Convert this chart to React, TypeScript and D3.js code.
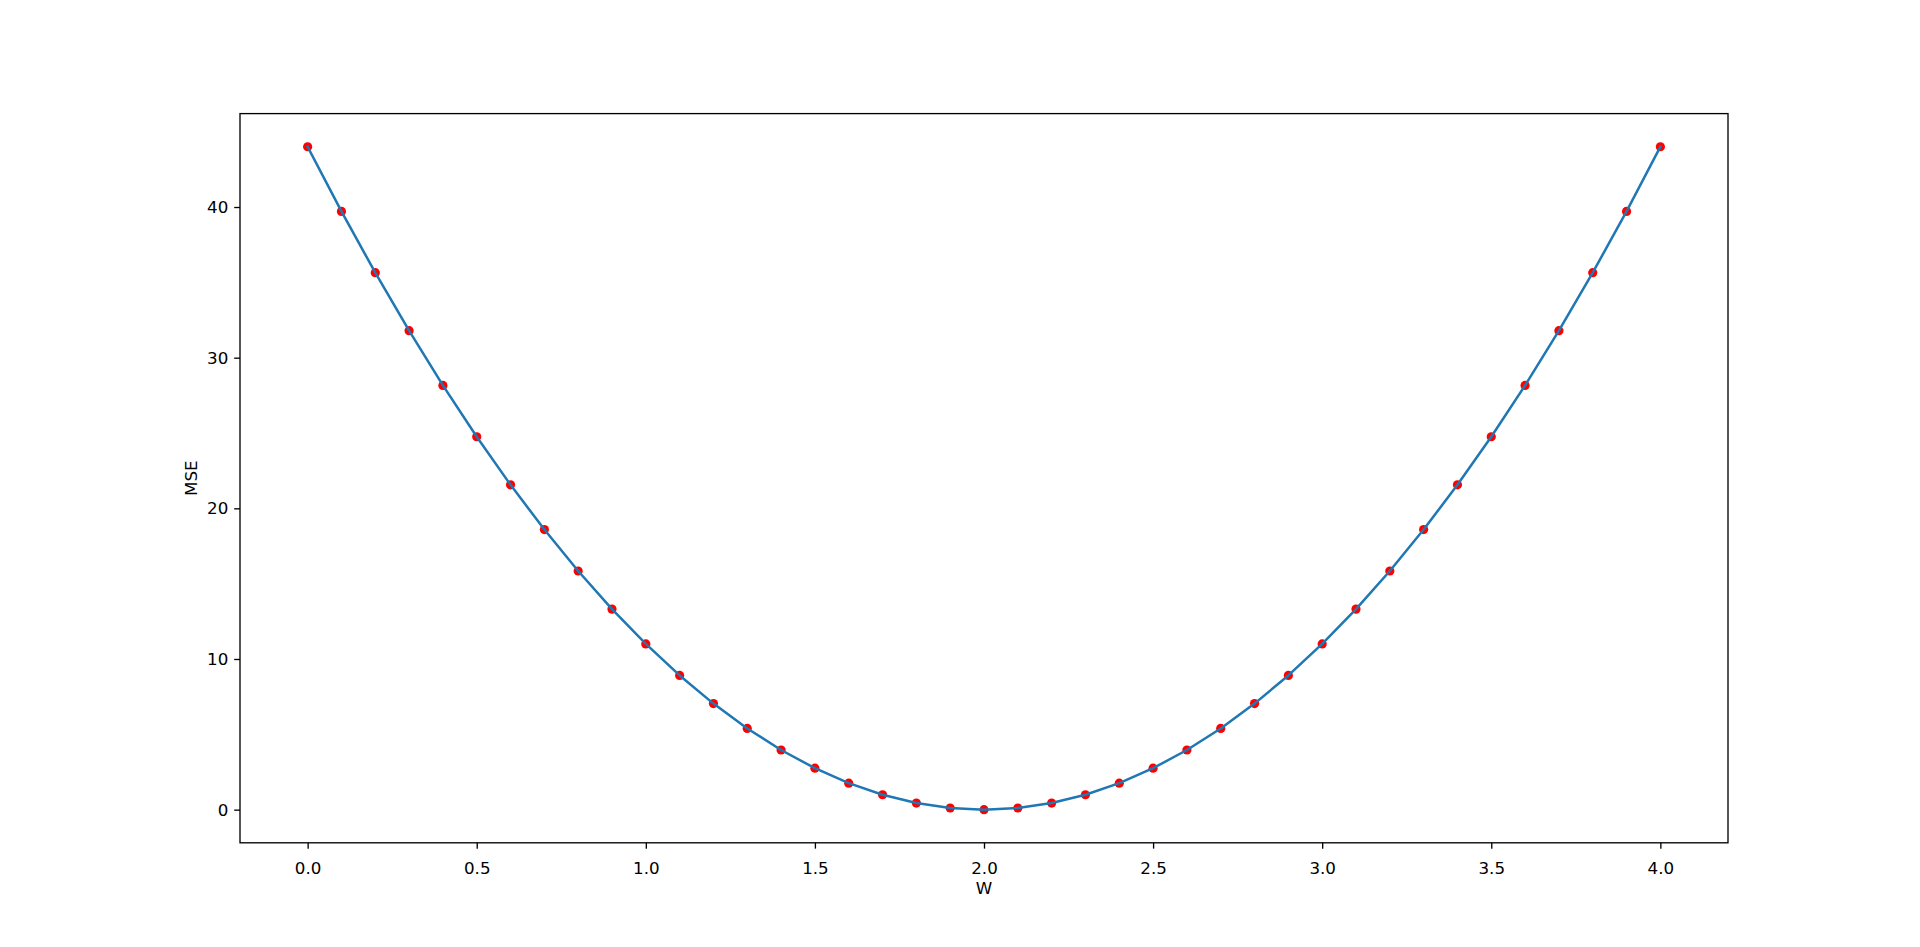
import React, { useEffect, useRef } from 'react';
import * as d3 from 'd3';

// W values sampled from 0 to 4
const wValues = [
  0.0, 0.1, 0.2, 0.3, 0.4, 0.5, 0.6, 0.7, 0.8, 0.9,
  1.0, 1.1, 1.2, 1.3, 1.4, 1.5, 1.6, 1.7, 1.8, 1.9,
  2.0, 2.1, 2.2, 2.3, 2.4, 2.5, 2.6, 2.7, 2.8, 2.9,
  3.0, 3.1, 3.2, 3.3, 3.4, 3.5, 3.6, 3.7, 3.8, 3.9, 4.0,
];

// MSE
const mseValues = [
  44.0, 39.71, 35.64, 31.79, 28.16, 24.75, 21.56, 18.59, 15.84, 13.31,
  11.0, 8.91, 7.04, 5.39, 3.96, 2.75, 1.76, 0.99, 0.44, 0.11,
  0.0, 0.11, 0.44, 0.99, 1.76, 2.75, 3.96, 5.39, 7.04, 8.91,
  11.0, 13.31, 15.84, 18.59, 21.56, 24.75, 28.16, 31.79, 35.64, 39.71, 44.0,
];

const xTicks = [0.0, 0.5, 1.0, 1.5, 2.0, 2.5, 3.0, 3.5, 4.0];
const yTicks = [0, 10, 20, 30, 40];

const WIDTH = 1920;
const HEIGHT = 947;

const App: React.FC = () => {
  const svgRef = useRef<SVGSVGElement | null>(null);

  useEffect(() => {
    const svg = d3.select(svgRef.current);
    svg.selectAll('*').remove();

    const margin = { top: 113.6, right: 192, bottom: 104.2, left: 240 };
    const innerWidth = WIDTH - margin.left - margin.right;
    const innerHeight = HEIGHT - margin.top - margin.bottom;

    const data = wValues.map((w, i) => ({ w, mse: mseValues[i] }));

    const x = d3.scaleLinear().domain([-0.2, 4.2]).range([0, innerWidth]);
    const y = d3.scaleLinear().domain([-2.2, 46.2]).range([innerHeight, 0]);

    const g = svg
      .append('g')
      .attr('transform', `translate(${margin.left},${margin.top})`);

    const font = '"DejaVu Sans", sans-serif';
    const fontSize = '16.7px';
    const tick = 5.83;

    // X axis
    const xAxis = g
      .append('g')
      .attr('transform', `translate(0,${innerHeight})`)
      .call(
        d3.axisBottom(x)
          .tickValues(xTicks)
          .tickFormat(d3.format('.1f'))
          .tickSize(tick)
          .tickPadding(tick)
      );
    xAxis.select('.domain').remove();
    xAxis.selectAll('line').attr('stroke', '#000').attr('stroke-width', 1.33);
    xAxis.selectAll('text')
      .attr('y', 31)
      .attr('dy', '0')
      .style('font-family', font)
      .style('font-size', fontSize)
      .attr('fill', '#000');

    // Y axis
    const yAxis = g
      .append('g')
      .call(
        d3.axisLeft(y)
          .tickValues(yTicks)
          .tickSize(tick)
          .tickPadding(tick)
      );
    yAxis.select('.domain').remove();
    yAxis.selectAll('line').attr('stroke', '#000').attr('stroke-width', 1.33);
    yAxis.selectAll('text')
      .style('font-family', font)
      .style('font-size', fontSize)
      .attr('fill', '#000');

    // Points
    g.selectAll('.pt')
      .data(data)
      .join('circle')
      .attr('class', 'pt')
      .attr('cx', d => x(d.w))
      .attr('cy', d => y(d.mse))
      .attr('r', 4.6)
      .attr('fill', '#ff0000');

    // Line on top
    const line = d3.line<{ w: number; mse: number }>()
      .x(d => x(d.w))
      .y(d => y(d.mse));

    g.append('path')
      .datum(data)
      .attr('d', line)
      .attr('fill', 'none')
      .attr('stroke', '#1f77b4')
      .attr('stroke-width', 2.5)
      .attr('stroke-linejoin', 'round')
      .attr('stroke-linecap', 'square');

    // Frame
    g.append('rect')
      .attr('x', 0)
      .attr('y', 0)
      .attr('width', innerWidth)
      .attr('height', innerHeight)
      .attr('fill', 'none')
      .attr('stroke', '#000')
      .attr('stroke-width', 1.33);

    // Axis labels
    g.append('text')
      .attr('x', innerWidth / 2)
      .attr('y', innerHeight + 51)
      .attr('text-anchor', 'middle')
      .style('font-family', font)
      .style('font-size', fontSize)
      .text('W');

    g.append('text')
      .attr('transform', `translate(${-43},${innerHeight / 2}) rotate(-90)`)
      .attr('text-anchor', 'middle')
      .style('font-family', font)
      .style('font-size', fontSize)
      .text('MSE');
  }, []);

  return (
    <div style={{ position: 'fixed', left: 0, top: 0, width: WIDTH, height: HEIGHT, background: '#fff' }}>
      <svg ref={svgRef} width={WIDTH} height={HEIGHT} style={{ display: 'block' }} />
    </div>
  );
};

export default App;
